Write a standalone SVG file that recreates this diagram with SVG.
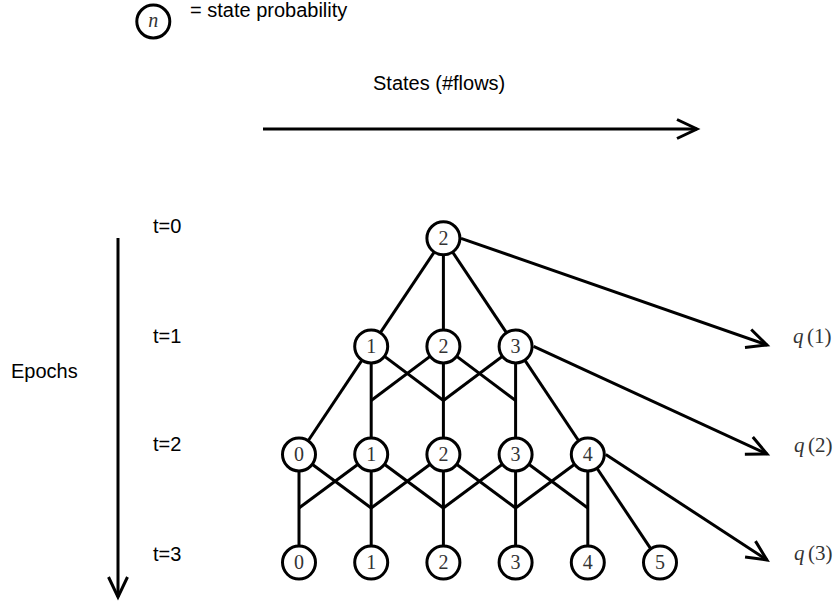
<svg xmlns="http://www.w3.org/2000/svg" width="836" height="603" viewBox="0 0 836 603">
<style>
.ln{stroke:#000;stroke-width:3;fill:none;stroke-linecap:butt}
.arr{stroke:#000;stroke-width:3;fill:none;marker-end:url(#ah)}
.nd circle{fill:#fff;stroke:#000;stroke-width:3}
.nd text{font-family:"Liberation Serif","DejaVu Serif",serif;font-size:20px;fill:#333;text-anchor:middle}
.lbl{font-family:"Liberation Sans",Arial,sans-serif;font-size:20px;fill:#000}
.q{font-family:"Liberation Serif","DejaVu Serif",serif;font-size:21px;fill:#333}
</style>
<defs>
<marker id="ah" markerUnits="userSpaceOnUse" viewBox="-24 -13 27 26" markerWidth="27" markerHeight="26" refX="0" refY="0" orient="auto" overflow="visible">
<path d="M-20,-9.5 L0,0 L-20,9.5" fill="none" stroke="#000" stroke-width="3"/>
</marker>
</defs>

<g id="legend">
<g class="nd"><circle cx="153.3" cy="21.5" r="16.5"/><text x="153.3" y="27" font-style="italic">n</text></g>
<text class="lbl" x="190" y="17">= state probability</text>
</g>

<g id="axes">
<text class="lbl" x="373" y="90">States (#flows)</text>
<line class="arr" x1="263" y1="129" x2="697" y2="129"/>
<line class="arr" x1="118" y1="238" x2="118" y2="597"/>
<text class="lbl" x="11" y="378">Epochs</text>
<text class="lbl" x="153" y="233">t=0</text>
<text class="lbl" x="153" y="343">t=1</text>
<text class="lbl" x="153" y="451">t=2</text>
<text class="lbl" x="153" y="561">t=3</text>
</g>

<g id="connectors">
<line class="ln" x1="443.4" y1="238.3" x2="371.2" y2="346.4"/>
<line class="ln" x1="443.4" y1="238.3" x2="443.4" y2="346.4"/>
<line class="ln" x1="443.4" y1="238.3" x2="515.6" y2="346.4"/>
<line class="ln" x1="371.2" y1="346.4" x2="299" y2="454.5"/>
<line class="ln" x1="371.2" y1="346.4" x2="371.2" y2="454.5"/>
<line class="ln" x1="371.2" y1="346.4" x2="443.4" y2="400.5"/>
<line class="ln" x1="443.4" y1="346.4" x2="371.2" y2="400.5"/>
<line class="ln" x1="443.4" y1="346.4" x2="443.4" y2="454.5"/>
<line class="ln" x1="443.4" y1="346.4" x2="515.6" y2="400.5"/>
<line class="ln" x1="515.6" y1="346.4" x2="443.4" y2="400.5"/>
<line class="ln" x1="515.6" y1="346.4" x2="515.6" y2="454.5"/>
<line class="ln" x1="515.6" y1="346.4" x2="587.8" y2="454.5"/>
<line class="ln" x1="299" y1="454.5" x2="299" y2="562.6"/>
<line class="ln" x1="299" y1="454.5" x2="371.2" y2="508"/>
<line class="ln" x1="371.2" y1="454.5" x2="299" y2="508"/>
<line class="ln" x1="371.2" y1="454.5" x2="371.2" y2="562.6"/>
<line class="ln" x1="371.2" y1="454.5" x2="443.4" y2="508"/>
<line class="ln" x1="443.4" y1="454.5" x2="371.2" y2="508"/>
<line class="ln" x1="443.4" y1="454.5" x2="443.4" y2="562.6"/>
<line class="ln" x1="443.4" y1="454.5" x2="515.6" y2="508"/>
<line class="ln" x1="515.6" y1="454.5" x2="443.4" y2="508"/>
<line class="ln" x1="515.6" y1="454.5" x2="515.6" y2="562.6"/>
<line class="ln" x1="515.6" y1="454.5" x2="587.8" y2="508"/>
<line class="ln" x1="587.8" y1="454.5" x2="515.6" y2="508"/>
<line class="ln" x1="587.8" y1="454.5" x2="587.8" y2="562.6"/>
<line class="ln" x1="587.8" y1="454.5" x2="660" y2="562.6"/>
<line class="arr" x1="461" y1="238.3" x2="767" y2="345"/>
<line class="arr" x1="533.6" y1="346.4" x2="767" y2="454"/>
<line class="arr" x1="605.8" y1="454.5" x2="767" y2="560"/>
</g>

<g id="n-t0-2" class="nd"><circle cx="443.4" cy="238.3" r="16.5"/><text x="443.4" y="245">2</text></g>
<g id="n-t1-1" class="nd"><circle cx="371.2" cy="346.4" r="16.5"/><text x="371.2" y="353">1</text></g>
<g id="n-t1-2" class="nd"><circle cx="443.4" cy="346.4" r="16.5"/><text x="443.4" y="353">2</text></g>
<g id="n-t1-3" class="nd"><circle cx="515.6" cy="346.4" r="16.5"/><text x="515.6" y="353">3</text></g>
<g id="n-t2-0" class="nd"><circle cx="299" cy="454.5" r="16.5"/><text x="299" y="461">0</text></g>
<g id="n-t2-1" class="nd"><circle cx="371.2" cy="454.5" r="16.5"/><text x="371.2" y="461">1</text></g>
<g id="n-t2-2" class="nd"><circle cx="443.4" cy="454.5" r="16.5"/><text x="443.4" y="461">2</text></g>
<g id="n-t2-3" class="nd"><circle cx="515.6" cy="454.5" r="16.5"/><text x="515.6" y="461">3</text></g>
<g id="n-t2-4" class="nd"><circle cx="587.8" cy="454.5" r="16.5"/><text x="587.8" y="461">4</text></g>
<g id="n-t3-0" class="nd"><circle cx="299" cy="562.6" r="16.5"/><text x="299" y="569">0</text></g>
<g id="n-t3-1" class="nd"><circle cx="371.2" cy="562.6" r="16.5"/><text x="371.2" y="569">1</text></g>
<g id="n-t3-2" class="nd"><circle cx="443.4" cy="562.6" r="16.5"/><text x="443.4" y="569">2</text></g>
<g id="n-t3-3" class="nd"><circle cx="515.6" cy="562.6" r="16.5"/><text x="515.6" y="569">3</text></g>
<g id="n-t3-4" class="nd"><circle cx="587.8" cy="562.6" r="16.5"/><text x="587.8" y="569">4</text></g>
<g id="n-t3-5" class="nd"><circle cx="660" cy="562.6" r="16.5"/><text x="660" y="569">5</text></g>

<g id="q-labels">
<text class="q" x="793" y="343"><tspan font-style="italic">q</tspan><tspan dx="3.5">(1)</tspan></text>
<text class="q" x="794" y="452"><tspan font-style="italic">q</tspan><tspan dx="3.5">(2)</tspan></text>
<text class="q" x="794" y="560"><tspan font-style="italic">q</tspan><tspan dx="3.5">(3)</tspan></text>
</g>
</svg>
